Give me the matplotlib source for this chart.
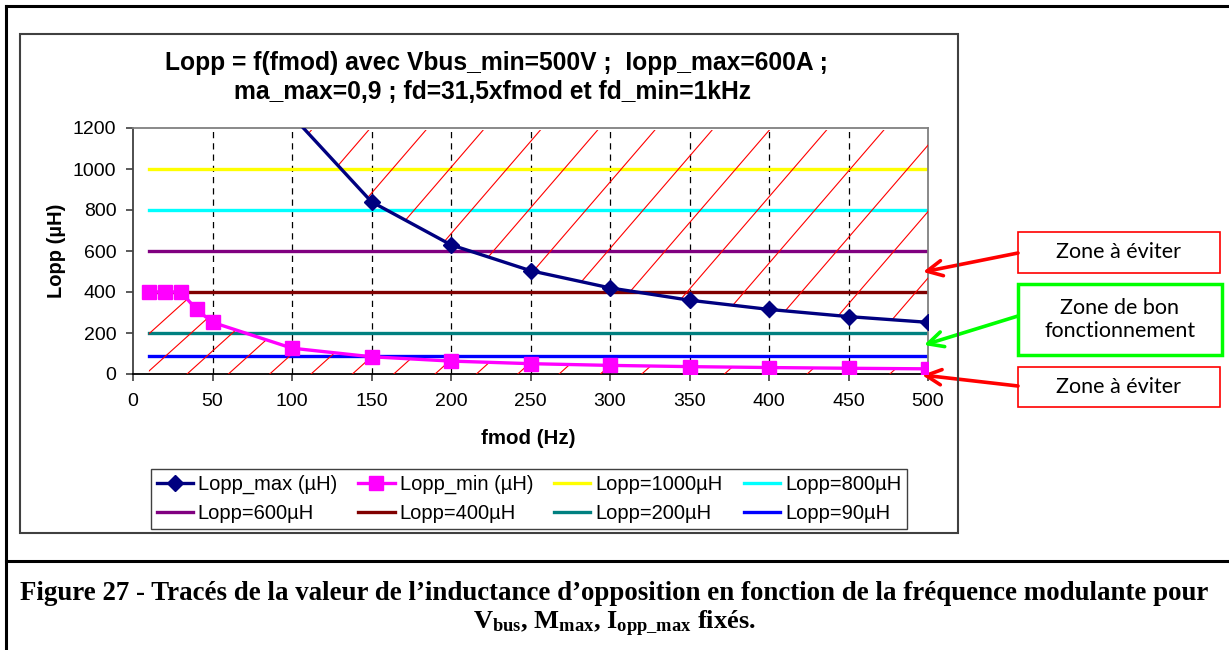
import numpy as np
import matplotlib.pyplot as plt
from matplotlib.patches import Rectangle
from matplotlib.lines import Line2D

plt.rcParams['font.family'] = ['Liberation Sans', 'DejaVu Sans']
plt.rcParams['mathtext.fontset'] = 'custom'
plt.rcParams['mathtext.rm'] = 'Liberation Serif:bold'
plt.rcParams['mathtext.it'] = 'Liberation Serif:bold'
plt.rcParams['mathtext.bf'] = 'Liberation Serif:bold'

# Données
fmod_max = [100, 150, 200, 250, 300, 350, 400, 450, 500]
lopp_max = [1260, 840, 630, 504, 420, 360, 315, 280, 252]

fmod_min = [10, 20, 30, 40, 50, 100, 150, 200, 250, 300, 350, 400, 450, 500]
lopp_min = [400, 400, 400, 315, 252, 126, 84, 63, 50.4, 42, 36, 31.5, 28, 25.2]

seuils = [1000, 800, 600, 400, 200, 90]
seuil_labels = ['Lopp=1000µH', 'Lopp=800µH', 'Lopp=600µH',
                'Lopp=400µH', 'Lopp=200µH', 'Lopp=90µH']
seuil_colors = ['#FFFF00', '#00FFFF', '#800080', '#800000', '#008080', '#0000FF']
seuil_x = [10, 500]

x_ticks = list(range(0, 501, 50))
y_ticks = list(range(0, 1201, 200))

W, H = 1229, 650


def fx(px):
    return px / W


def fy(py):
    return 1 - py / H


fig = plt.figure(figsize=(W / 100, H / 100), dpi=100)
ax = fig.add_axes([fx(133), fy(374), fx(928) - fx(133), fy(128) - fy(374)])

# Cadres autour de la figure
fig.add_artist(Line2D([fx(6), fx(6)], [fy(6), 0], color='black', lw=2.2))
fig.add_artist(Line2D([fx(6), 1], [fy(6), fy(6)], color='black', lw=2.2))
fig.add_artist(Line2D([fx(6), 1], [fy(561), fy(561)], color='black', lw=2.2))
fig.add_artist(Rectangle((fx(20), fy(533)), fx(958) - fx(20), fy(34) - fy(533),
                         transform=fig.transFigure, fill=False,
                         edgecolor='#404040', lw=1.5))

# Grille verticale pointillée
for xt in x_ticks[1:-1]:
    ax.axvline(xt, color='black', lw=0.9, dashes=(5, 4), zorder=1)

# Droites de seuil
seuil_handles = []
for v, lab, col in zip(seuils, seuil_labels, seuil_colors):
    h, = ax.plot(seuil_x, [v, v], color=col, lw=2.4, label=lab, zorder=2)
    seuil_handles.append(h)

# Zones hachurées (à éviter)
zone_haut = ax.fill_between(fmod_max, lopp_max, 1190, facecolor='none', edgecolor='none')
zone_bas = ax.fill_between(fmod_min, 0, lopp_min, facecolor='none', edgecolor='none')

for zone, pente, pas in [(zone_haut, 9.0, 36), (zone_bas, 7.0, 26)]:
    clip = zone.get_paths()[0]
    for c in np.arange(-200, 520, pas):
        xs = np.array([c, c + 1300 / pente])
        hl, = ax.plot(xs, pente * (xs - c), color='red', lw=0.8, zorder=3)
        hl.set_clip_path(clip, ax.transData)

h_max, = ax.plot(fmod_max, lopp_max, color='#000080', lw=2.4, marker='D',
                 markersize=8, label='Lopp_max (µH)', zorder=5)
h_min, = ax.plot(fmod_min, lopp_min, color='#FF00FF', lw=2.4, marker='s',
                 markersize=10, label='Lopp_min (µH)', zorder=4)

ax.set_xlim(0, 500)
ax.set_ylim(0, 1200)
ax.set_xticks(x_ticks)
ax.set_yticks(y_ticks)
ax.tick_params(axis='both', labelsize=14, direction='out', length=5, width=1.2, color='#404040')
ax.tick_params(axis='x', pad=9)
ax.tick_params(axis='y', pad=7)
for s in ['top', 'right']:
    ax.spines[s].set_color('#808080')
    ax.spines[s].set_linewidth(1.3)
ax.spines['left'].set_color('#404040')
ax.spines['bottom'].set_color('black')
ax.spines['left'].set_linewidth(1.3)
ax.spines['bottom'].set_linewidth(1.3)

fig.text(fx(57), fy(251), 'Lopp (µH)', rotation=90, ha='center', va='center',
         fontsize=14.5, fontweight='bold')
fig.text(fx(528), fy(438), 'fmod (Hz)', ha='center', va='center',
         fontsize=14.8, fontweight='bold')

fig.text(fx(496), fy(63), 'Lopp = f(fmod) avec Vbus_min=500V ;  Iopp_max=600A ;',
         ha='center', va='center', fontsize=17.7, fontweight='bold')
fig.text(fx(492), fy(92), 'ma_max=0,9 ; fd=31,5xfmod et fd_min=1kHz',
         ha='center', va='center', fontsize=17.7, fontweight='bold')

# Légende sur deux lignes
handles = [h_max, seuil_handles[2], h_min, seuil_handles[3],
           seuil_handles[0], seuil_handles[4], seuil_handles[1], seuil_handles[5]]
fig.legend(handles=handles, labels=[h.get_label() for h in handles], ncol=4,
           loc='center', bbox_to_anchor=(fx(529), fy(499)), fontsize=14.5,
           frameon=True, fancybox=False, edgecolor='#404040', framealpha=1,
           handlelength=1.8, handletextpad=0.25, columnspacing=1.05,
           labelspacing=0.5, borderpad=0.3, borderaxespad=0)

# Cadres « Zone » et flèches
zones = [('Zone à éviter', 1018, 232, 1220, 273, 'red', 1.2, 253, 923, 272),
         ('Zone de bon\nfonctionnement', 1018, 284, 1222, 355, '#00FF00', 2.5, 316, 924, 345),
         ('Zone à éviter', 1018, 367, 1220, 407, 'red', 1.2, 386, 922, 375)]
for txt, x0, y0, x1, y1, col, lw, ya, xt, yt in zones:
    fig.add_artist(Rectangle((fx(x0), fy(y1)), fx(x1) - fx(x0), fy(y0) - fy(y1),
                             transform=fig.transFigure, fill=False,
                             edgecolor=col, lw=lw))
    fig.text(fx((x0 + x1) / 2), fy((y0 + y1) / 2), txt, ha='center', va='center',
             fontsize=15.5, family=['Lato', 'DejaVu Sans'], linespacing=1.2)
    ax.annotate('', xy=(fx(xt), fy(yt)), xycoords='figure fraction',
                xytext=(fx(x0), fy(ya)), textcoords='figure fraction',
                arrowprops=dict(arrowstyle='->,head_length=1.1,head_width=0.55',
                                color=col, lw=2.6, shrinkA=0, shrinkB=0),
                annotation_clip=False)

fig.text(0.5, fy(593),
         'Figure 27 - Tracés de la valeur de l’inductance d’opposition en fonction de la fréquence modulante pour',
         ha='center', va='center', fontsize=19.4, fontweight='bold',
         family=['Liberation Serif', 'DejaVu Serif'])
fig.text(0.5, fy(624),
         r'V$_{\mathrm{bus}}$, M$_{\mathrm{max}}$, I$_{\mathrm{opp\_max}}$ fixés.',
         ha='center', va='center', fontsize=19, fontweight='bold',
         family=['Liberation Serif', 'DejaVu Serif'])

fig.savefig('out.png', dpi=100)
